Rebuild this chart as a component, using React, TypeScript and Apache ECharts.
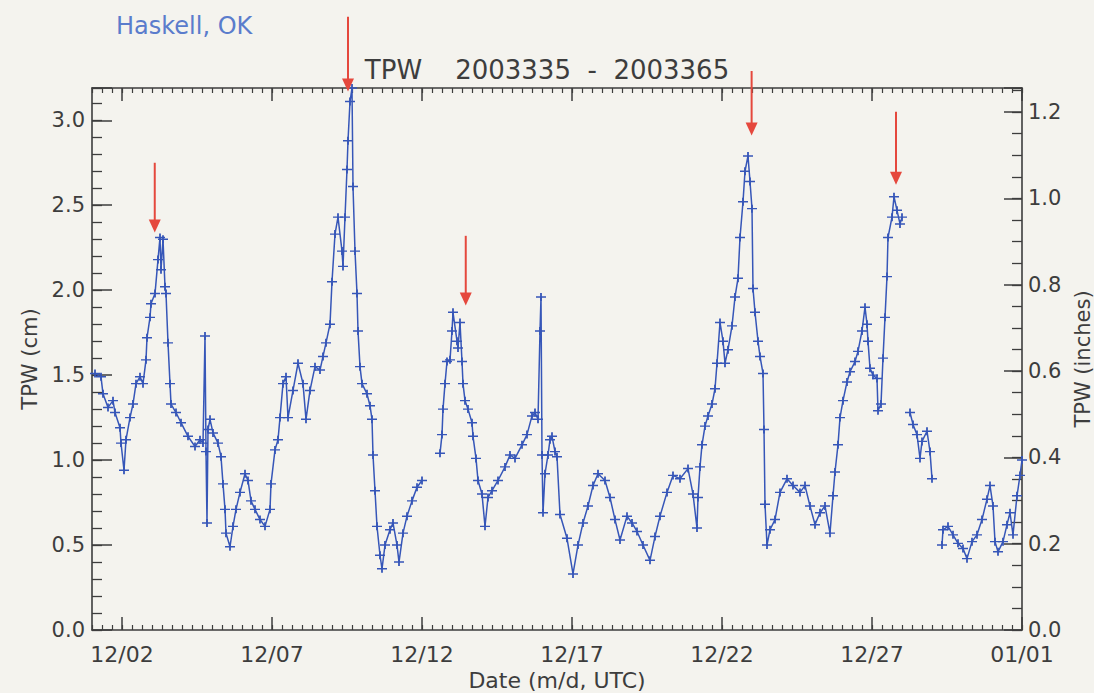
import React, { useEffect, useRef } from 'react';
import * as echarts from 'echarts';

// TPW (cm) observations, [hours since 2003-12-01 00:00 UTC, value]
const segDec01to11: [number, number][] = [
  [2.4, 1.51], [7.2, 1.49], [8.8, 1.39], [12.8, 1.31], [16.8, 1.35], [18.4, 1.28], [22.4, 1.19], [23.2, 1.10],
  [25.6, 0.94], [27.2, 1.12], [30.4, 1.25], [32.8, 1.33], [35.2, 1.45], [38.4, 1.49], [40.8, 1.45], [43.2, 1.59],
  [44.0, 1.72], [46.4, 1.84], [47.2, 1.92], [50.4, 1.98], [52.8, 2.18], [54.4, 2.31], [55.2, 2.12], [56.8, 2.30],
  [58.4, 2.02], [59.2, 1.98], [60.8, 1.69], [62.4, 1.45], [63.2, 1.33], [67.2, 1.28], [71.2, 1.22], [76.8, 1.14],
  [82.4, 1.08], [86.4, 1.12], [88.8, 1.10], [90.4, 1.73], [91.2, 1.05], [92.0, 0.63], [92.8, 1.18], [94.4, 1.24],
  [96.8, 1.16], [100.8, 1.10], [103.2, 1.02], [104.8, 0.86], [106.4, 0.71], [107.2, 0.57], [110.4, 0.49], [112.8, 0.61],
  [115.2, 0.71], [118.4, 0.81], [122.4, 0.92], [124.8, 0.88], [127.2, 0.76], [130.4, 0.71], [134.4, 0.65], [138.4, 0.61],
  [142.4, 0.71], [143.2, 0.86], [146.4, 1.06], [148.8, 1.12], [150.4, 1.25], [152.8, 1.45], [155.2, 1.49], [156.8, 1.25],
  [160.8, 1.41], [164.8, 1.57], [168.8, 1.45], [171.2, 1.24], [174.4, 1.41], [178.4, 1.55], [182.4, 1.53], [184.8, 1.61],
  [187.2, 1.69], [190.4, 1.80], [192.0, 2.05], [194.4, 2.33], [196.8, 2.43], [200.0, 2.23], [200.8, 2.14], [202.4, 2.43],
  [204.0, 2.71], [204.8, 2.88], [206.4, 3.11], [208.0, 3.19], [208.8, 2.61], [210.4, 2.23], [212.0, 1.98], [212.8, 1.76],
  [214.4, 1.55], [216.0, 1.45], [220.0, 1.39], [222.4, 1.32], [224.0, 1.24], [224.8, 1.03], [226.4, 0.82], [228.0, 0.61],
  [230.4, 0.44], [232.0, 0.36], [234.4, 0.50], [238.4, 0.59], [240.8, 0.63], [244.0, 0.50], [245.6, 0.40], [248.8, 0.57],
  [252.0, 0.67], [256.0, 0.76], [260.0, 0.84], [264.0, 0.88],
];

const segDec12to28: [number, number][] = [
  [278.4, 1.04], [280.0, 1.15], [280.8, 1.30], [282.4, 1.45], [284.0, 1.58], [286.4, 1.59], [288.0, 1.76], [288.8, 1.87],
  [292.0, 1.70], [292.8, 1.66], [294.4, 1.81], [296.0, 1.58], [296.8, 1.45], [298.4, 1.35], [300.8, 1.30], [304.0, 1.22],
  [304.8, 1.14], [307.2, 1.01], [308.8, 0.88], [312.0, 0.80], [314.4, 0.61], [316.8, 0.78], [320.0, 0.82], [324.8, 0.88],
  [330.4, 0.96], [334.4, 1.03], [338.4, 1.01], [344.0, 1.09], [348.0, 1.15], [352.0, 1.26], [354.4, 1.28], [356.8, 1.24],
  [358.4, 1.76], [359.2, 1.96], [360.0, 1.03], [360.8, 0.69], [362.4, 0.92], [364.8, 1.03], [366.4, 1.12], [368.0, 1.14],
  [370.4, 1.05], [372.0, 1.02], [374.4, 0.68], [380.0, 0.54], [384.8, 0.33], [388.8, 0.50], [392.8, 0.63], [396.8, 0.73],
  [400.8, 0.85], [404.8, 0.92], [410.4, 0.88], [414.4, 0.78], [418.4, 0.65], [422.4, 0.53], [428.0, 0.67], [432.0, 0.63],
  [436.0, 0.58], [440.8, 0.50], [446.4, 0.41], [450.4, 0.55], [454.4, 0.67], [460.0, 0.81], [464.8, 0.91], [470.4, 0.89],
  [476.8, 0.95], [480.8, 0.80], [484.0, 0.60], [484.8, 0.78], [486.4, 0.96], [488.0, 1.09], [490.4, 1.20], [492.8, 1.26],
  [496.0, 1.33], [498.4, 1.42], [500.0, 1.57], [502.4, 1.81], [504.8, 1.70], [506.4, 1.57], [508.8, 1.65], [512.0, 1.79],
  [514.4, 1.96], [516.8, 2.07], [518.4, 2.31], [520.8, 2.52], [522.4, 2.70], [524.8, 2.79], [526.4, 2.64], [528.0, 2.48],
  [528.8, 2.01], [530.4, 1.87], [532.8, 1.70], [534.4, 1.61], [536.8, 1.51], [537.6, 1.18], [538.4, 0.74], [540.0, 0.50],
  [542.4, 0.59], [546.4, 0.65], [550.4, 0.81], [556.0, 0.89], [560.8, 0.85], [566.4, 0.81], [570.4, 0.85], [574.4, 0.73],
  [578.4, 0.62], [582.4, 0.69], [586.4, 0.73], [590.4, 0.57], [592.8, 0.79], [594.4, 0.93], [596.8, 1.09], [598.4, 1.25],
  [600.8, 1.35], [604.0, 1.46], [606.4, 1.52], [610.4, 1.58], [612.8, 1.64], [616.0, 1.76], [618.4, 1.90], [620.0, 1.80],
  [620.8, 1.70], [622.4, 1.54], [624.8, 1.50], [628.0, 1.48], [628.8, 1.29], [631.2, 1.33], [632.8, 1.60], [634.4, 1.84],
  [636.0, 2.08], [636.8, 2.31], [640.0, 2.43], [641.6, 2.55], [644.0, 2.47], [646.4, 2.39], [648.0, 2.43],
];

const segDec28to29: [number, number][] = [
  [654.4, 1.28], [656.8, 1.21], [660.0, 1.15], [662.4, 1.01], [664.0, 1.11], [668.0, 1.17], [670.4, 1.05], [672.0, 0.89],
];

const segDec29to31: [number, number][] = [
  [680.0, 0.50], [680.8, 0.59], [684.8, 0.61], [688.8, 0.56], [692.8, 0.51], [696.8, 0.48], [700.0, 0.42], [704.0, 0.52],
  [708.0, 0.56], [712.0, 0.65], [716.0, 0.77], [718.4, 0.85], [720.8, 0.73], [722.4, 0.52], [724.8, 0.46], [728.8, 0.52],
  [732.0, 0.62], [734.4, 0.69], [736.8, 0.56], [740.0, 0.79], [742.4, 0.91], [744.0, 1.00],
];

// gaps in the record (hours)
const gapHours = [270, 651, 676];

const xTickHours = [24, 144, 264, 384, 504, 624, 744];
const xTickLabels = ['12/02', '12/07', '12/12', '12/17', '12/22', '12/27', '01/01'];

const X_MAX_HOURS = 744;
const Y_MAX_CM = 3.19;
const CM_PER_INCH = 2.54;

// red arrows marking the peaks
const arrowHours = [50.2, 204.8, 299.0, 527.7, 643.2];
const arrowTopCm = [2.75, 3.61, 2.32, 3.29, 3.05];
const arrowTipCm = [2.34, 3.17, 1.91, 2.91, 2.62];

const AXIS = '#3d3d3d';
const BLUE = '#3656b8';
const RED = '#e5483d';
const FONT = '"DejaVu Sans", "Liberation Sans", sans-serif';

const onMultiple = (v: number, step: number) => Math.abs(v / step - Math.round(v / step)) < 1e-6;

export default function App() {
  const ref = useRef<HTMLDivElement>(null);

  useEffect(() => {
    const chart = echarts.init(ref.current!, null, { renderer: 'svg' });

    const data: (number | null)[][] = [
      ...segDec01to11,
      [gapHours[0], null],
      ...segDec12to28,
      [gapHours[1], null],
      ...segDec28to29,
      [gapHours[2], null],
      ...segDec29to31,
    ];

    const axisLine = { show: true, onZero: false, lineStyle: { color: AXIS, width: 1.6 } };
    const noLine = { show: false, onZero: false };
    const hidden = { show: false };

    const option: any = {
      animation: false,
      backgroundColor: '#f4f3ee',
      textStyle: { fontFamily: FONT },
      grid: { left: 92, right: 72, top: 88, bottom: 63, containLabel: false, outerBoundsMode: 'none' },
      xAxis: [
        {
          type: 'value', position: 'bottom', min: 0, max: X_MAX_HOURS,
          axisLine,
          splitLine: hidden,
          axisTick: { show: true, inside: true, length: 13, customValues: xTickHours, lineStyle: { color: AXIS, width: 1.5 } },
          axisLabel: {
            show: true, customValues: xTickHours, margin: 13, color: AXIS, fontSize: 22, fontFamily: FONT,
            formatter: (v: number) => {
              const i = xTickHours.indexOf(v);
              return i >= 0 ? xTickLabels[i] : '';
            },
          },
          name: 'Date (m/d, UTC)', nameLocation: 'middle', nameGap: 38,
          nameTextStyle: { color: AXIS, fontSize: 22, fontFamily: FONT, verticalAlign: 'top' },
        },
        {
          type: 'value', position: 'bottom', min: 0, max: X_MAX_HOURS, interval: 8,
          axisLine: noLine, splitLine: hidden, axisLabel: hidden,
          axisTick: { show: true, inside: true, length: 5, lineStyle: { color: AXIS, width: 1.2 } },
        },
        {
          type: 'value', position: 'top', min: 0, max: X_MAX_HOURS,
          axisLine, splitLine: hidden, axisLabel: hidden,
          axisTick: { show: true, inside: true, length: 13, customValues: xTickHours, lineStyle: { color: AXIS, width: 1.5 } },
        },
        {
          type: 'value', position: 'top', min: 0, max: X_MAX_HOURS, interval: 8,
          axisLine: noLine, splitLine: hidden, axisLabel: hidden,
          axisTick: { show: true, inside: true, length: 5, lineStyle: { color: AXIS, width: 1.2 } },
        },
      ],
      yAxis: [
        {
          type: 'value', position: 'left', min: 0, max: Y_MAX_CM, interval: 0.5,
          axisLine, splitLine: hidden,
          axisTick: { show: true, inside: true, length: 20, lineStyle: { color: AXIS, width: 1.5 } },
          axisLabel: {
            show: true, margin: 7, color: AXIS, fontSize: 21, fontFamily: FONT, hideOverlap: false,
            formatter: (v: number) => (onMultiple(v, 0.5) ? v.toFixed(1) : ''),
          },
          name: 'TPW (cm)', nameLocation: 'middle', nameGap: 52, nameRotate: 90,
          nameTextStyle: { color: AXIS, fontSize: 21, fontFamily: FONT },
        },
        {
          type: 'value', position: 'left', min: 0, max: Y_MAX_CM, interval: 0.1,
          axisLine: noLine, splitLine: hidden, axisLabel: hidden,
          axisTick: { show: true, inside: true, length: 10, lineStyle: { color: AXIS, width: 1.3 } },
        },
        {
          type: 'value', position: 'right', min: 0, max: Y_MAX_CM / CM_PER_INCH, interval: 0.2,
          axisLine, splitLine: hidden,
          axisTick: { show: true, inside: true, length: 18, lineStyle: { color: AXIS, width: 1.5 } },
          axisLabel: {
            show: true, margin: 6, color: AXIS, fontSize: 21, fontFamily: FONT, hideOverlap: false,
            formatter: (v: number) => (onMultiple(v, 0.2) ? v.toFixed(1) : ''),
          },
          name: 'TPW (inches)', nameLocation: 'middle', nameGap: 43, nameRotate: 90,
          nameTextStyle: { color: AXIS, fontSize: 21, fontFamily: FONT },
        },
        {
          type: 'value', position: 'right', min: 0, max: Y_MAX_CM / CM_PER_INCH, interval: 0.05,
          axisLine: noLine, splitLine: hidden, axisLabel: hidden,
          axisTick: { show: true, inside: true, length: 10, lineStyle: { color: AXIS, width: 1.3 } },
        },
      ],
      series: [
        {
          type: 'line',
          xAxisIndex: 0,
          yAxisIndex: 0,
          data,
          connectNulls: false,
          showSymbol: true,
          showAllSymbol: true,
          symbol: 'path://M0,4.1 L10,4.1 L10,5.9 L0,5.9 Z M4.1,0 L5.9,0 L5.9,10 L4.1,10 Z',
          symbolSize: [10, 8],
          itemStyle: { color: BLUE },
          lineStyle: { color: BLUE, width: 1.5 },
          emphasis: { disabled: true },
          clip: true,
        },
      ],
    };

    chart.setOption(option);

    const toPx = (h: number, v: number) =>
      chart.convertToPixel({ xAxisIndex: 0, yAxisIndex: 0 }, [h, v]) as number[];

    const arrowEls: any[] = [];
    arrowHours.forEach((h, i) => {
      const top = toPx(h, arrowTopCm[i]);
      const tip = toPx(h, arrowTipCm[i]);
      const head = 13;
      arrowEls.push({
        type: 'line', silent: true, z: 10,
        shape: { x1: top[0], y1: top[1], x2: tip[0], y2: tip[1] - head + 1 },
        style: { stroke: RED, lineWidth: 2 },
      });
      arrowEls.push({
        type: 'polygon', silent: true, z: 10,
        shape: { points: [[tip[0] - 6, tip[1] - head], [tip[0] + 6, tip[1] - head], [tip[0], tip[1]]] },
        style: { fill: RED },
      });
    });

    chart.setOption({
      graphic: [
        {
          type: 'text', x: 116, y: 26, silent: true,
          style: {
            text: 'Haskell, OK', fill: '#5a7ccc', font: `24px ${FONT}`,
            textAlign: 'left', textVerticalAlign: 'middle', align: 'left', verticalAlign: 'middle',
          },
        },
        {
          type: 'text', x: 547, y: 70, silent: true,
          style: {
            text: 'TPW\u00a0\u00a0\u00a0\u00a02003335\u00a0\u00a0-\u00a0\u00a02003365', fill: AXIS, font: `26px ${FONT}`,
            textAlign: 'center', textVerticalAlign: 'middle', align: 'center', verticalAlign: 'middle',
          },
        },
        ...arrowEls,
      ],
    });

    return () => chart.dispose();
  }, []);

  return <div ref={ref} style={{ position: 'absolute', left: 0, top: 0, width: 1094, height: 693 }} />;
}
